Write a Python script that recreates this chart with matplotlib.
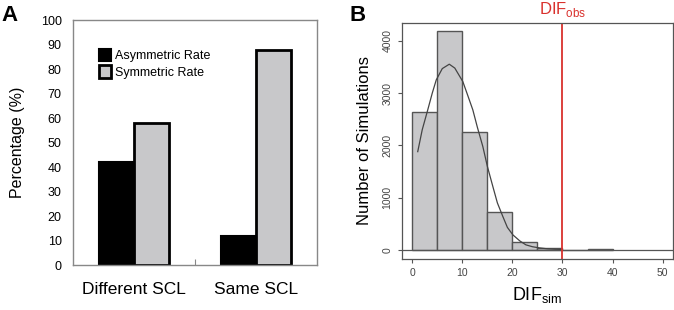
import numpy as np
import matplotlib.pyplot as plt

plt.rcParams['font.family'] = ['Liberation Sans', 'DejaVu Sans']

# Panel A data
groups = ['Different SCL', 'Same SCL']
asym_rate = [42, 12]
sym_rate = [58, 88]

# Panel B data
bin_left = [0, 5, 10, 15, 20, 25, 30, 35]
counts = [2635, 4190, 2250, 730, 150, 30, 5, 15]
curve_x = [1.1, 2.0, 3.1, 4.0, 4.8, 6.0, 7.4, 8.5, 10.1, 11.0, 12.1, 13.0, 14.1, 15.0,
           16.1, 17.0, 18.1, 19.0, 20.1, 21.5, 22.7, 24.0, 25.4, 27.0, 28.5, 30.0]
curve_y = [1880, 2300, 2680, 3000, 3254, 3470, 3554, 3480, 3222, 2980, 2680, 2350, 1977, 1600,
           1212, 900, 637, 430, 287, 170, 96, 60, 38, 20, 12, 8]

fig = plt.figure(figsize=(6.74, 3.10), dpi=100)

# ---- A ----
ax1 = fig.add_axes([0.108, 0.145, 0.362, 0.79])
x = np.arange(len(groups))
w = 0.287
ax1.bar(x - w/2, asym_rate, w, color='black', edgecolor='black', linewidth=1.5,
        label='Asymmetric Rate')
ax1.bar(x + w/2, sym_rate, w, color='#c8c8ca', edgecolor='black', linewidth=2,
        label='Symmetric Rate')
ax1.set_xlim(-0.5, 1.5)
ax1.set_ylim(0, 100)
ax1.set_yticks(range(0, 101, 10))
ax1.set_xticks([0.5])
ax1.set_xticklabels([''])
ax1.tick_params(axis='x', direction='in', length=4, color='#888888')
ax1.tick_params(axis='y', length=0, labelsize=9, pad=8)
for s in ax1.spines.values():
    s.set_color('#888888')
    s.set_linewidth(1)
for xi, g in zip(x, groups):
    ax1.text(xi, -7, g, ha='center', va='top', fontsize=12.5)
ax1.set_ylabel('Percentage (%)', fontsize=11.5, labelpad=11)
ax1.legend(loc='upper left', bbox_to_anchor=(0.06, 0.93), frameon=False, fontsize=9,
           handlelength=1.0, handleheight=1.2, handletextpad=0.3, labelspacing=0.25)
fig.text(0.002, 0.915, 'A', fontsize=16, fontweight='bold', va='bottom')

# ---- B ----
ax2 = fig.add_axes([0.596, 0.165, 0.402, 0.761])
ax2.bar(bin_left, counts, width=5, align='edge', color='#c8c8ca', edgecolor='#555555',
        linewidth=1)
ax2.plot(curve_x, curve_y, color='#444444', linewidth=0.9)
ax2.axhline(0, color='#555555', linewidth=0.9)
ax2.axvline(30, color='#d9312d', linewidth=1.3)
ax2.set_xlim(-2.1, 52)
ax2.set_ylim(-172, 4344)
ax2.set_xticks(range(0, 51, 10))
ax2.set_yticks(range(0, 4001, 1000))
ax2.tick_params(labelsize=7.5, labelcolor='#444444', color='#555555', length=3)
ax2.tick_params(axis='y', labelrotation=90)
for lab in ax2.get_yticklabels():
    lab.set_va('center')
for s in ax2.spines.values():
    s.set_color('#555555')
    s.set_linewidth(0.9)
ax2.set_ylabel('Number of Simulations', fontsize=12, labelpad=8)
ax2.set_xlabel('DIF$_{\\mathregular{sim}}$', fontsize=13, labelpad=5)
ax2.text(30, 4420, 'DIF$_{\\mathregular{obs}}$', color='#d9312d', fontsize=12,
         ha='center', va='bottom')
fig.text(0.518, 0.915, 'B', fontsize=16, fontweight='bold', va='bottom')

fig.savefig('out.png', dpi=100)
